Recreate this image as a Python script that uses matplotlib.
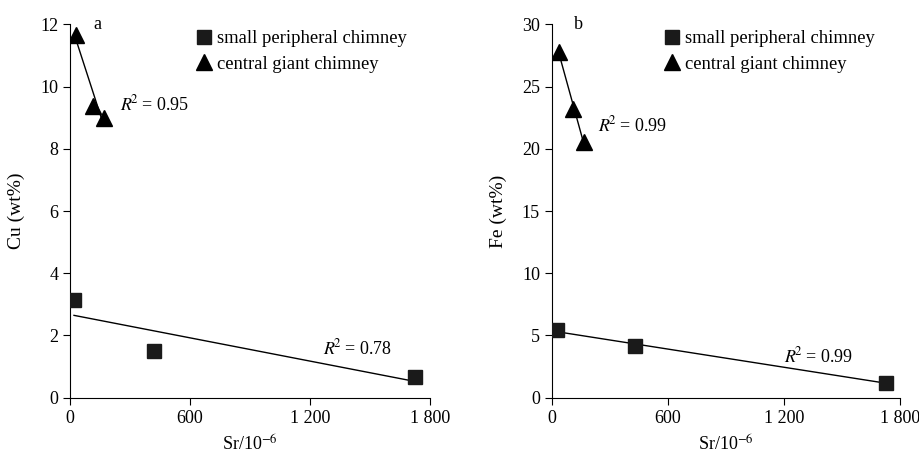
import numpy as np
import matplotlib
matplotlib.use("Agg")
import matplotlib.pyplot as plt

plt.rcParams['font.family'] = ['Liberation Serif', 'DejaVu Serif']
plt.rcParams['mathtext.fontset'] = 'stix'
plt.rcParams['font.size'] = 13

# data
sr_small = [20, 422, 1725]
cu_small = [3.14, 1.50, 0.675]
sr_central = [30, 117, 170]
cu_central = [11.66, 9.37, 8.98]

sr_small_b = [26, 428, 1728]
fe_small = [5.44, 4.15, 1.2]
sr_central_b = [37, 111, 166]
fe_central = [27.8, 23.2, 20.57]

x_ticks = [0, 600, 1200, 1800]
x_tick_labels = ["0", "600", "1 200", "1 800"]
cu_ticks = [0, 2, 4, 6, 8, 10, 12]
fe_ticks = [0, 5, 10, 15, 20, 25, 30]


def fit_line(ax, x, y):
    x = np.asarray(x, float)
    y = np.asarray(y, float)
    k, b = np.polyfit(x, y, 1)
    xs = np.array([x.min(), x.max()])
    ax.plot(xs, k * xs + b, color='black', lw=1, zorder=1)


def panel(ax, xs, ys, xc, yc, ymax, yticks, ylabel, letter, r2pos, leg_x):
    ax.plot(xs, ys, 's', color='#1a1a1a', ms=10, ls='none',
            label='small peripheral chimney', zorder=3)
    ax.plot(xc, yc, '^', color='black', ms=11, ls='none',
            label='central giant chimney', zorder=3)
    fit_line(ax, xs, ys)
    fit_line(ax, xc, yc)
    ax.set_xlim(0, 1800)
    ax.set_ylim(0, ymax)
    ax.set_xticks(x_ticks)
    ax.set_xticklabels(x_tick_labels)
    ax.set_yticks(yticks)
    ax.spines['top'].set_visible(False)
    ax.spines['right'].set_visible(False)
    ax.tick_params(direction='out', length=5, width=0.8, labelsize=13)
    ax.set_xlabel("Sr/10$^{-6}$", fontsize=13, labelpad=6)
    ax.set_ylabel(ylabel, fontsize=14, labelpad=11)
    ax.text(0.065, 1.0, letter, transform=ax.transAxes, fontsize=13,
            ha='left', va='center')
    for (px, py, s) in r2pos:
        ax.text(px, py, s, ha='left', va='center', fontsize=13)
    ax.legend(loc='upper left', bbox_to_anchor=(leg_x, 1.014), frameon=False,
              handletextpad=0.1, handlelength=1.2, borderaxespad=0.2,
              labelspacing=0.45, fontsize=13.4)


fig = plt.figure(figsize=(9.2, 4.55), dpi=100)
ax1 = fig.add_axes([0.0761, 0.1259, 0.3913, 0.8207])
ax2 = fig.add_axes([0.5997, 0.1259, 0.3790, 0.8207])

panel(ax1, sr_small, cu_small, sr_central, cu_central, 12, cu_ticks,
      "Cu (wt%)", "a",
      [(250, 9.44, r"$R^{\!\!2}$ = 0.95"), (1265, 1.6, r"$R^{\!\!2}$ = 0.78")],
      0.311)
panel(ax2, sr_small_b, fe_small, sr_central_b, fe_central, 30, fe_ticks,
      "Fe (wt%)", "b",
      [(238, 21.9, r"$R^{\!\!2}$ = 0.99"), (1198, 3.35, r"$R^{\!\!2}$ = 0.99")],
      0.282)

fig.savefig("out.png", dpi=100)
